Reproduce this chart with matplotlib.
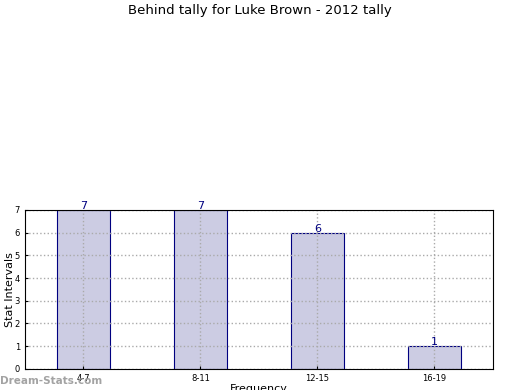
import matplotlib
matplotlib.use("Agg")
import matplotlib.pyplot as plt

categories = ["4-7", "8-11", "12-15", "16-19"]
values = [7, 7, 6, 1]

fig = plt.figure(figsize=(5.2, 3.9), dpi=100)
ax = fig.add_axes([0.048, 0.054, 0.9, 0.408])
x = list(range(len(categories)))
ax.bar(x, values, width=0.45, color="#ccccE3", edgecolor="none", zorder=1)
ax.bar(x, values, width=0.45, color="none", edgecolor="#000080", linewidth=0.8, zorder=2)
for xi, v in zip(x, values):
    ax.text(xi, v - 0.05, str(v), ha="center", va="bottom", fontsize=8, color="#000080", zorder=4)
ax.set_xlim(-0.5, 3.5)
ax.set_ylim(0, 7)
ax.set_xticks(x)
ax.set_xticklabels(categories, fontsize=6)
ax.set_yticks(range(0, 8))
ax.tick_params(axis="y", labelsize=6, length=2, direction="in")
ax.tick_params(axis="x", length=2, direction="in")
ax.set_axisbelow(False)
ax.grid(True, linestyle=":", color="#aaaaaa", linewidth=1.0)
for gl in ax.get_xgridlines() + ax.get_ygridlines():
    gl.set_zorder(1.5)
for s in ax.spines.values():
    s.set_zorder(3)
ax.set_xlabel("Frequency", fontsize=8, labelpad=1)
ax.set_ylabel("Stat Intervals", fontsize=8)
ax.yaxis.set_label_coords(-0.022, 0.5)
fig.suptitle("Behind tally for Luke Brown - 2012 tally", fontsize=9.5, y=0.99)
fig.text(0.0, 0.015, "Dream-Stats.com", fontsize=7.5, fontweight="bold", color="#999999", alpha=0.9)
fig.savefig("out.png", dpi=100)
